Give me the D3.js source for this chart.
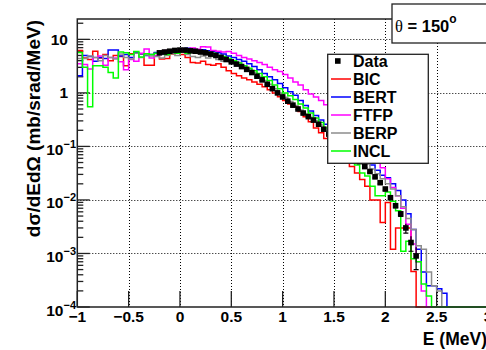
<!DOCTYPE html>
<html>
<head>
<meta charset="utf-8">
<script src="https://cdn.jsdelivr.net/npm/d3@7"></script>
<style>
body { margin: 0; background: #fff; }
text { font-family: "Liberation Sans", Arial, sans-serif; font-weight: bold; fill: #000; }
</style>
</head>
<body>
<svg id="chart" width="486" height="350"></svg>
<script>
// histogram bins: 0.05 MeV wide, first bin starts at -1 MeV
var binStart = -1;
var binWidth = 0.05;
var nBins = 80;

// model predictions (mb/srad/MeV), one value per bin
var bic = [6.2, 4.5, 4.2, 6.0, 4.5, 5.2, 4.0, 5.0, 4.8, 3.2, 5.4, 5.5, 5.4, 3.3, 3.3, 5.6,
  4.3, 4.4, 5.3, 5.6, 5.2, 4.6, 3.7, 3.6, 3.9, 3.4, 3.3, 3.5, 3.0, 2.6, 2.3, 2.1, 1.9, 1.75,
  1.6, 1.45, 1.3, 1.15, 1.0, 0.85, 0.72, 0.62, 0.55, 0.45, 0.36, 0.29, 0.22, 0.18, 0.14, 0.12, 0.1,
  0.08, 0.05, 0.042, 0.032, 0.024, 0.018, 0.010, 0.010, 0.0038, 0.009, 0.0012, 0.003, 0.003, 0.003, 0.00046];
var bert = [2.1, 5.0, 4.8, 3.9, 4.6, 4.4, 6.3, 6.3, 4.9, 5.2, 4.6, 5.6, 5.4, 5.0, 5.2, 5.7,
  5.3, 5.8, 6.0, 5.9, 6.3, 6.8, 6.5, 6.2, 6.4, 6.1, 5.9, 5.6, 5.3, 4.9, 4.6, 4.2, 3.9, 3.5,
  3.1, 2.7, 2.3, 2.0, 1.75, 1.5, 1.25, 1.05, 0.9, 0.72, 0.58, 0.46, 0.38, 0.31, 0.26, 0.22, 0.18,
  0.15, 0.12, 0.1, 0.085, 0.07, 0.055, 0.045, 0.036, 0.029, 0.026, 0.02, 0.015, 0.01, 0.0055, 0.0028,
  0.0012, 0.00045, 0.00025, 0.00025, 0.00022, 0.00018];
var ftfp = [3.5, 3.4, 2.8, 4.6, 4.9, 3.3, 4.6, 4.5, 3.8, 2.7, 4.2, 3.9, 5.5, 6.6, 4.5, 5.0,
  5.4, 6.2, 6.0, 6.4, 6.6, 6.3, 6.9, 6.5, 7.3, 7.2, 6.2, 6.0, 5.8, 5.9, 5.5, 5.0, 4.6, 4.3,
  4.0, 3.7, 3.4, 3.0, 2.7, 2.5, 2.2, 1.9, 1.6, 1.4, 1.15, 0.95, 0.84, 0.72, 0.6, 0.5, 0.4,
  0.33, 0.26, 0.2, 0.16, 0.12, 0.09, 0.065, 0.05, 0.04, 0.025, 0.017, 0.012, 0.007, 0.0035, 0.0015,
  0.0007, 0.0002];
var berp = [4.4, 4.4, 4.9, 4.6, 4.0, 5.0, 4.6, 4.3, 5.3, 4.6, 4.3, 5.5, 4.6, 5.1, 4.9, 4.8,
  4.5, 5.0, 5.4, 5.0, 5.8, 5.2, 4.8, 4.6, 4.9, 4.5, 4.8, 4.2, 3.9, 4.0, 3.8, 3.7, 3.2, 2.8,
  2.4, 2.05, 1.7, 1.45, 1.2, 1.0, 0.83, 0.69, 0.58, 0.48, 0.41, 0.35, 0.3, 0.25, 0.2, 0.17, 0.14,
  0.12, 0.1, 0.085, 0.07, 0.058, 0.047, 0.038, 0.031, 0.025, 0.02, 0.016, 0.012, 0.0075, 0.0045, 0.0028,
  0.0014, 0.0012, 0.00045, 0.00025, 0.0002];
var incl = [5.7, 3.0, 0.55, 3.2, 3.2, 3.0, 2.4, 1.9, 5.8, 5.6, 5.2, 5.9, 4.7, 5.4, 5.2, 5.5,
  5.6, 5.2, 5.8, 5.5, 6.0, 5.5, 5.9, 5.6, 5.8, 5.7, 5.5, 5.0, 4.8, 4.4, 4.0, 3.6, 3.2, 2.9,
  2.6, 2.3, 2.0, 1.7, 1.4, 1.2, 1.0, 0.88, 0.75, 0.62, 0.52, 0.42, 0.34, 0.28, 0.22, 0.17, 0.13,
  0.1, 0.08, 0.062, 0.045, 0.032, 0.028, 0.018, 0.012, 0.012, 0.014, 0.0095, 0.0063, 0.0011, 0.0017, 0.0008,
  0.0007, 0.00027, 0.00016];

// measured points
var dataE = [-0.2, -0.15, -0.1, -0.05, 0, 0.05, 0.1, 0.15, 0.2, 0.25, 0.3, 0.35, 0.4, 0.45, 0.5, 0.55,
  0.6, 0.65, 0.7, 0.75, 0.8, 0.85, 0.9, 0.95, 1.0, 1.05, 1.1, 1.15, 1.2, 1.25, 1.3, 1.35, 1.4, 1.45,
  1.5, 1.55, 1.6, 1.65, 1.7, 1.75, 1.8, 1.85, 1.9, 1.95, 2.0, 2.05, 2.1, 2.15, 2.2, 2.25, 2.3];
var dataVal = [5.6, 5.8, 6.0, 6.2, 6.3, 6.3, 6.1, 6.0, 5.8, 5.6, 5.3, 5.0, 4.6, 4.2, 3.8, 3.45,
  3.1, 2.75, 2.4, 2.05, 1.75, 1.45, 1.2, 1.0, 0.84, 0.70, 0.59, 0.50, 0.42, 0.36, 0.31, 0.26, 0.21, 0.17,
  0.14, 0.115, 0.095, 0.078, 0.064, 0.052, 0.042, 0.034, 0.027, 0.021, 0.016, 0.011, 0.0078, 0.0055, 0.003, 0.0016, 0.0009];
var dataErr = [0.15, 0.15, 0.15, 0.15, 0.15, 0.15, 0.15, 0.15, 0.15, 0.15, 0.14, 0.13, 0.12, 0.11, 0.1, 0.09,
  0.08, 0.07, 0.06, 0.05, 0.045, 0.04, 0.033, 0.028, 0.024, 0.02, 0.017, 0.015, 0.013, 0.011, 0.01, 0.008, 0.007, 0.006,
  0.005, 0.004, 0.0035, 0.003, 0.0026, 0.0022, 0.0019, 0.0016, 0.0013, 0.0011, 0.0009, 0.0007, 0.0006, 0.0006, 0.0006, 0.0005, 0.0004];

var seriesNames = ["BIC", "BERT", "FTFP", "BERP", "INCL"];
var seriesData = [bic, bert, ftfp, berp, incl];
var seriesColors = ["#ff0000", "#0000ff", "#ff00ff", "#8c8c8c", "#00ff00"];

var xTicks = [-1, -0.5, 0, 0.5, 1, 1.5, 2, 2.5, 3];
var xTickLabels = ["\u22121", "\u22120.5", "0", "0.5", "1", "1.5", "2", "2.5", "3"];
var yDecades = [1e-4, 1e-3, 1e-2, 1e-1, 1, 10];
var yExponents = [-4, -3, -2, -1, 0, 1];

var W = 486, H = 350;
var fL = 77.3, fR = 488, fT = 19, fB = 307;

var svg = d3.select("#chart");
svg.append("rect").attr("width", W).attr("height", H).attr("fill", "#fff");

var x = d3.scaleLinear().domain([-1, 3]).range([fL, fR]);
var y = d3.scaleLog().domain([1e-4, 24]).range([fB, fT]);

svg.append("defs").append("clipPath").attr("id", "frame")
  .append("rect").attr("x", fL).attr("y", fT)
  .attr("width", fR - fL).attr("height", fB - fT + 1.5);

//grid
var grid = svg.append("g")
  .attr("stroke", "#000").attr("stroke-width", 1).attr("stroke-dasharray", "1,2");
grid.selectAll(".gx").data(xTicks.slice(1, -1)).enter().append("line")
  .attr("x1", d => Math.round(x(d)) + 0.5).attr("x2", d => Math.round(x(d)) + 0.5)
  .attr("y1", fT).attr("y2", fB);
grid.selectAll(".gy").data(yDecades.slice(1)).enter().append("line")
  .attr("x1", fL).attr("x2", fR)
  .attr("y1", d => Math.round(y(d)) + 0.5).attr("y2", d => Math.round(y(d)) + 0.5);

//ticks
var ticks = svg.append("g").attr("stroke", "#222").attr("stroke-width", 1.3);
ticks.selectAll(".tx").data(xTicks).enter().append("line")
  .attr("x1", d => x(d)).attr("x2", d => x(d))
  .attr("y1", fB).attr("y2", fB - 16);
ticks.selectAll(".ty").data(y.ticks()).enter().append("line")
  .attr("x1", fL)
  .attr("x2", d => yDecades.indexOf(d) >= 0 ? fL + 12.5 : fL + 6)
  .attr("y1", d => y(d)).attr("y2", d => y(d));

//histograms
var hist = svg.append("g").attr("clip-path", "url(#frame)");
var step = d3.line()
  .x(d => x(d[0]))
  .y(d => y(d[1]))
  .curve(d3.curveStepAfter);

seriesData.forEach(function(arr, k) {
  var pts = d3.range(nBins).map(function(i) {
    var v = arr[i] || 0;
    if (v < 1e-4) v = 1e-4;
    return [binStart + i * binWidth, v];
  });
  pts.push([binStart + nBins * binWidth, pts[nBins - 1][1]]);
  hist.append("path")
    .attr("d", step(pts))
    .attr("fill", "none")
    .attr("stroke", seriesColors[k])
    .attr("stroke-width", 1.5);
});

//data points with error bars
var pts = dataE.map((e, i) => ({e: e, v: dataVal[i], err: dataErr[i]}));
var dg = svg.append("g").attr("clip-path", "url(#frame)");
dg.selectAll(".err").data(pts).enter().append("line")
  .attr("x1", d => x(d.e)).attr("x2", d => x(d.e))
  .attr("y1", d => y(d.v + d.err)).attr("y2", d => y(Math.max(d.v - d.err, 1e-4)))
  .attr("stroke", "#000").attr("stroke-width", 1.2);
dg.selectAll(".cap").data(pts).enter().append("line")
  .attr("x1", d => x(d.e) - 2.5).attr("x2", d => x(d.e) + 2.5)
  .attr("y1", d => y(Math.max(d.v - d.err, 1e-4))).attr("y2", d => y(Math.max(d.v - d.err, 1e-4)))
  .attr("stroke", "#000").attr("stroke-width", 1.2);
dg.selectAll(".pt").data(pts).enter().append("rect")
  .attr("x", d => x(d.e) - 2.8).attr("y", d => y(d.v) - 2.8)
  .attr("width", 5.6).attr("height", 5.6)
  .attr("fill", "#000");

//frame / axes
var axes = svg.append("g").attr("stroke", "#222").attr("stroke-width", 1.5).attr("fill", "none");
axes.append("path").attr("d", "M" + fR + "," + fT + "H" + fL + "V" + fB + "H" + fR);

//x tick labels
svg.selectAll(".xl").data(xTicks).enter().append("text")
  .attr("x", d => x(d)).attr("y", 322)
  .attr("text-anchor", "middle").attr("font-size", 15.5)
  .text((d, i) => xTickLabels[i]);

//y tick labels
yDecades.forEach(function(d, i) {
  var ex = yExponents[i];
  var t = svg.append("text").attr("font-size", 15.5).attr("text-anchor", "end");
  if (ex === 1 || ex === 0) {
    t.attr("x", 68).attr("y", y(d) + 5.5).text(ex === 1 ? "10" : "1");
  } else {
    t.attr("x", 76).attr("y", y(d) + 8.5);
    t.append("tspan").text("10");
    t.append("tspan").attr("font-size", 11).attr("dy", -7).text("\u2212" + (-ex));
  }
});

//axis titles
svg.append("text")
  .attr("x", 487).attr("y", 345)
  .attr("text-anchor", "end").attr("font-size", 17.5)
  .text("E (MeV)");
svg.append("text")
  .attr("transform", "translate(40," + 20 + ") rotate(-90)")
  .attr("text-anchor", "end").attr("font-size", 19)
  .text("d\u03c3/dEd\u03a9 (mb/srad/MeV)");

//legend
var leg = svg.append("g");
leg.append("rect").attr("x", 327.7).attr("y", 54.3).attr("width", 100.6).attr("height", 109)
  .attr("fill", "#fff").attr("stroke", "#222").attr("stroke-width", 1.3);
var legNames = ["Data"].concat(seriesNames);
legNames.forEach(function(name, i) {
  var cy = 61 + i * 18;
  if (i === 0) {
    leg.append("rect").attr("x", 335).attr("y", cy - 2.8).attr("width", 5.6).attr("height", 5.6).attr("fill", "#000");
  } else {
    leg.append("line").attr("x1", 331).attr("x2", 351).attr("y1", cy).attr("y2", cy)
      .attr("stroke", seriesColors[i - 1]).attr("stroke-width", 1.5);
  }
  leg.append("text").attr("x", 353).attr("y", cy + 5.8).attr("font-size", 16).text(name);
});

//angle label
var pav = svg.append("g");
pav.append("rect").attr("x", 392).attr("y", 4).attr("width", 110).attr("height", 39)
  .attr("fill", "#fff").attr("stroke", "#222").attr("stroke-width", 1.3);
var th = pav.append("text").attr("x", 395).attr("y", 31.5).attr("font-size", 16.5);
th.append("tspan").attr("font-family", "'Liberation Serif', serif").attr("font-weight", "normal").text("\u03b8");
th.append("tspan").text(" = 150");
th.append("tspan").attr("font-size", 12).attr("dy", -9).text("o");
</script>
</body>
</html>
